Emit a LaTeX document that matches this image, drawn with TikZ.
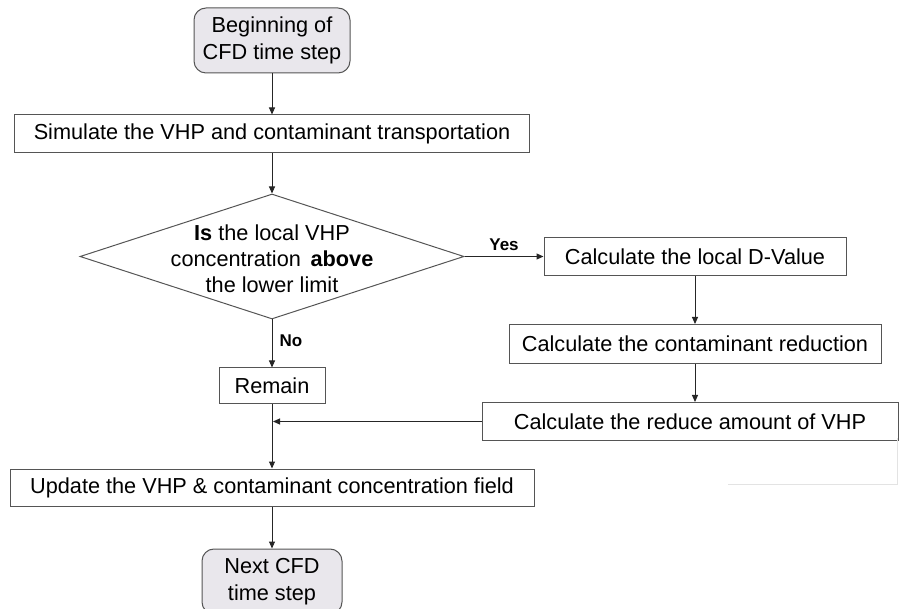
\documentclass[tikz,border=0pt]{standalone}
\usepackage{fontspec}
\setmainfont{Liberation Sans}
\usepackage{xcolor}
\usepackage{tikz}
\usetikzlibrary{shapes,arrows.meta,positioning,calc,shapes.geometric}

\definecolor{stepgray}{RGB}{233,231,236}
\definecolor{edgegray}{RGB}{85,85,85}

\begin{document}
\begin{tikzpicture}[x=1pt, y=1pt, node distance=40pt, >={Triangle[length=7pt,width=6pt]}]
  % Styles
  \tikzstyle{terminal} = [rectangle, draw=edgegray, fill=stepgray, rounded corners=12pt, align=center, inner sep=0pt, minimum height=65pt, line width=1pt, font=\fontsize{21.7}{27}\selectfont]
  \tikzstyle{process} = [rectangle, draw=edgegray, align=center, inner sep=0pt, minimum height=38pt, line width=1pt, font=\fontsize{21.7}{26}\selectfont]
  \tikzstyle{decision} = [diamond, draw=edgegray, inner sep=0pt, minimum width=384pt, minimum height=125pt, line width=1pt]
  \tikzstyle{answer} = [font=\fontsize{17}{20}\selectfont\bfseries, inner sep=0pt]
  \tikzstyle{flow} = [->, draw=black!85, line width=1pt]

  \useasboundingbox (0,0) rectangle (899,608);

  % Nodes
  \node [terminal, minimum width=156pt] (begin) at (272,567.5) {Beginning of\\CFD time step};
  \node [process, minimum width=515pt, below=41pt of begin] (simulate) {Simulate the VHP and contaminant transportation};
  \node [decision, below=40pt of simulate] (check) {};
  \node [align=center, font=\fontsize{21.7}{26}\selectfont, yshift=-2pt] (checktext) at (check) {\textbf{Is} the local VHP\\concentration \,\textbf{above}\\the lower limit};
  \node [process, minimum width=106pt, minimum height=36pt, below=48pt of check] (remain) {Remain};
  \node [process, minimum width=524pt, minimum height=37pt, below=64pt of remain] (update) {Update the VHP \& contaminant concentration field};
  \node [terminal, minimum width=140pt, below=42pt of update] (next) {Next CFD\\time step};

  \node [process, minimum width=302pt, right=79pt of check] (dvalue) {Calculate the local D-Value};
  \node [process, minimum width=372pt, minimum height=39pt, below=48pt of dvalue] (reduction) {Calculate the contaminant reduction};
  \node [process, minimum width=416pt, below=38pt of reduction, xshift=-5pt] (reduceVHP) {Calculate the reduce amount of VHP};
  \coordinate (join) at (remain.south |- reduceVHP.west);

  % Paths / Edges
  \draw [flow] (begin) -- (simulate);
  \draw [flow] (simulate) -- (check);
  \draw [flow] (check.east) -- node[answer, above=5pt] {Yes} (check.east -| dvalue.west);
  \draw [flow] (check) -- node[answer, right=7pt, yshift=3pt] {No} (remain);
  \draw [flow] (dvalue) -- (reduction);
  \draw [flow] (reduction.south) -- (reduction.south |- reduceVHP.north);
  \draw [flow, shorten >=1pt] (reduceVHP) -- (join);
  \draw [flow] (remain) -- (update);
  \draw [flow] (update) -- (next);

  % faint frame edge at right
  \draw [gray!22, line width=0.6pt] (728,124) -- (897,124) -- (897,170);

\end{tikzpicture}
\end{document}
